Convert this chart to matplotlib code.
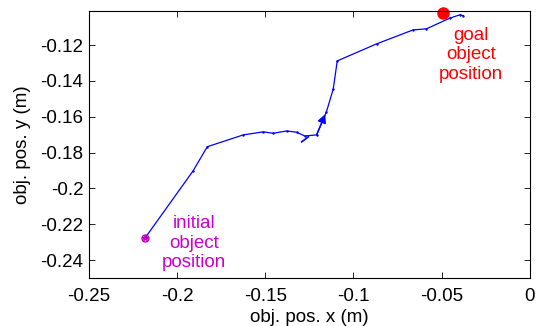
import numpy as np
import matplotlib
matplotlib.use("Agg")
from matplotlib import pyplot as plt

plt.rcParams['font.family'] = ['Liberation Sans', 'DejaVu Sans']

# object trajectory (m)
path_x = [-0.2183, -0.1909, -0.1829, -0.1625, -0.1512, -0.1455, -0.1379, -0.1323,
          -0.1276, -0.1209, -0.1153, -0.1115, -0.1092, -0.0869, -0.0662, -0.0586,
          -0.0453, -0.0397, -0.0378]
path_y = [-0.2278, -0.1901, -0.1767, -0.1701, -0.1684, -0.1692, -0.1679, -0.1686,
          -0.1707, -0.1701, -0.1571, -0.1446, -0.1288, -0.1193, -0.1115, -0.1109,
          -0.1049, -0.1031, -0.1035]
hook_x = [-0.1294, -0.1256]
hook_y = [-0.1740, -0.1712]
arrow_from = (-0.1209, -0.1701)
arrow_to = (-0.1160, -0.1585)
start_pos = (-0.2183, -0.2278)
goal_pos = (-0.0491, -0.1018)
x_ticks = [-0.25, -0.2, -0.15, -0.1, -0.05, 0]
x_tick_labels = ['-0.25', '-0.2', '-0.15', '-0.1', '-0.05', '0']
y_ticks = [-0.24, -0.22, -0.2, -0.18, -0.16, -0.14, -0.12]
y_tick_labels = ['-0.24', '-0.22', '-0.2', '-0.18', '-0.16', '-0.14', '-0.12']

fig = plt.figure(figsize=(5.39, 3.26), dpi=100)
ax = fig.add_axes([0.165, 0.147, 0.818, 0.819])

ax.plot(path_x, path_y, color='blue', lw=0.9, marker='.', ms=1.5)
ax.plot(hook_x, hook_y, color='blue', lw=1.2)
ax.annotate('', xy=arrow_to, xytext=arrow_from,
            arrowprops=dict(arrowstyle='-|>', color='blue', lw=1.0, mutation_scale=13,
                            shrinkA=0, shrinkB=0))
ax.plot(*start_pos, 'o', color='m', ms=5, mfc='none', mew=1)
ax.plot(*start_pos, '*', color='m', ms=4)
ax.plot(*goal_pos, 'o', color='red', ms=8, clip_on=False)

ax.text(-0.0335, -0.1254, 'goal\nobject\nposition', color='red', fontsize=13.5,
        ha='center', va='center', linespacing=1.2)
ax.text(-0.1905, -0.2305, 'initial\nobject\nposition', color='#cc00cc', fontsize=13.5,
        ha='center', va='center', linespacing=1.2)

ax.set_xlim(-0.25, 0)
ax.set_ylim(-0.25, -0.101)
ax.set_xticks(x_ticks)
ax.set_xticklabels(x_tick_labels)
ax.set_yticks(y_ticks)
ax.set_yticklabels(y_tick_labels)
ax.tick_params(direction='in', top=True, right=True, labelsize=13.5, length=4, width=0.6)
ax.tick_params(axis='x', pad=7)
ax.tick_params(axis='y', pad=4)
for s in ax.spines.values():
    s.set_linewidth(0.8)
ax.set_xlabel('obj. pos. x (m)', fontsize=13.5, labelpad=3)
ax.set_ylabel('obj. pos. y (m)', fontsize=13.5, labelpad=7)

plt.savefig('out.png', dpi=100)
